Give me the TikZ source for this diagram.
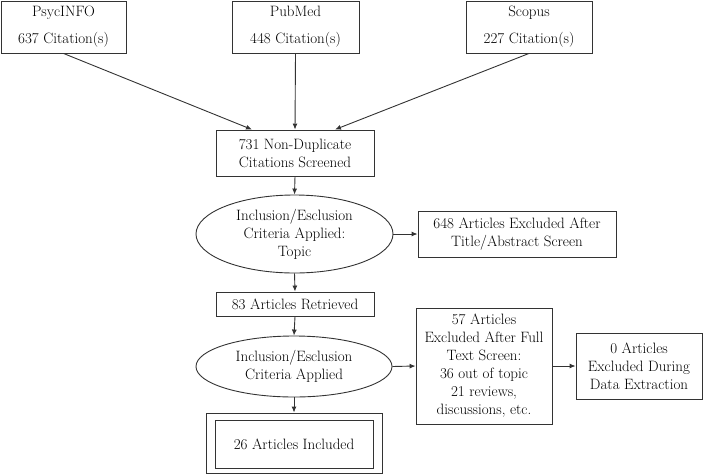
\documentclass[tikz,border=0pt]{standalone}
\usetikzlibrary{arrows.meta,shapes.geometric}
\tikzset{
  box/.style={draw=black!80, line width=0.9pt, rectangle, align=center, inner sep=0pt, font=\fontsize{15}{18}\selectfont},
  oval/.style={draw=black!80, line width=0.9pt, ellipse, align=center, inner sep=0pt, font=\fontsize{15}{18}\selectfont},
  arr/.style={draw=black!80, line width=0.9pt, -{Latex[length=6pt,width=5pt]}}}
\begin{document}
\begin{tikzpicture}[x=1pt,y=-1pt]
\useasboundingbox (0,0) rectangle (708,474);
\node[box, minimum width=125pt, minimum height=52pt] (psyc) at (63.5,27) {PsycINFO\\[9pt]637 Citation(s)};
\node[box, minimum width=127pt, minimum height=52pt] (pub) at (295.5,27) {PubMed\\[9pt]448 Citation(s)};
\node[box, minimum width=126pt, minimum height=52pt] (scop) at (529,27) {Scopus\\[9pt]227 Citation(s)};
\node[box, minimum width=158pt, minimum height=46pt] (nd) at (295,153) {731 Non-Duplicate\\Citations Screened};
\node[oval, minimum width=197pt, minimum height=78pt] (e1) at (294.5,234) {Inclusion/Esclusion\\Criteria Applied:\\Topic};
\node[box, minimum width=198pt, minimum height=46pt] (ex1) at (517,234) {648 Articles Excluded After\\Title/Abstract Screen};
\node[box, minimum width=158pt, minimum height=24pt] (ret) at (295,304) {83 Articles Retrieved};
\node[oval, minimum width=196pt, minimum height=61pt] (e2) at (294,366.5) {Inclusion/Esclusion\\Criteria Applied};
\node[box, minimum width=176pt, minimum height=60pt] (inc) at (294,443) {};
\node[box, minimum width=158pt, minimum height=48pt] (incin) at (294,444) {26 Articles Included};
\node[box, minimum width=136pt, minimum height=116pt] (ex2) at (484,366) {57 Articles\\Excluded After Full\\Text Screen:\\36 out of topic\\21 reviews,\\discussions, etc.};
\node[box, minimum width=126pt, minimum height=66pt] (ex3) at (639,366) {0 Articles\\Excluded During\\Data Extraction};
\draw[arr] (psyc.south) -- ([xshift=-43pt]nd.north);
\draw[arr] (pub.south) -- (nd.north);
\draw[arr] (scop.south) -- ([xshift=40pt]nd.north);
\draw[arr] (nd.south) -- (e1.north);
\draw[arr] (e1.east) -- (ex1.west);
\draw[arr] (e1.south) -- (ret.north);
\draw[arr] (ret.south) -- (e2.north);
\draw[arr] (e2.south) -- (inc.north);
\draw[arr] (e2.east) -- (ex2.west);
\draw[arr] (ex2.east) -- (ex3.west);
\end{tikzpicture}
\end{document}
